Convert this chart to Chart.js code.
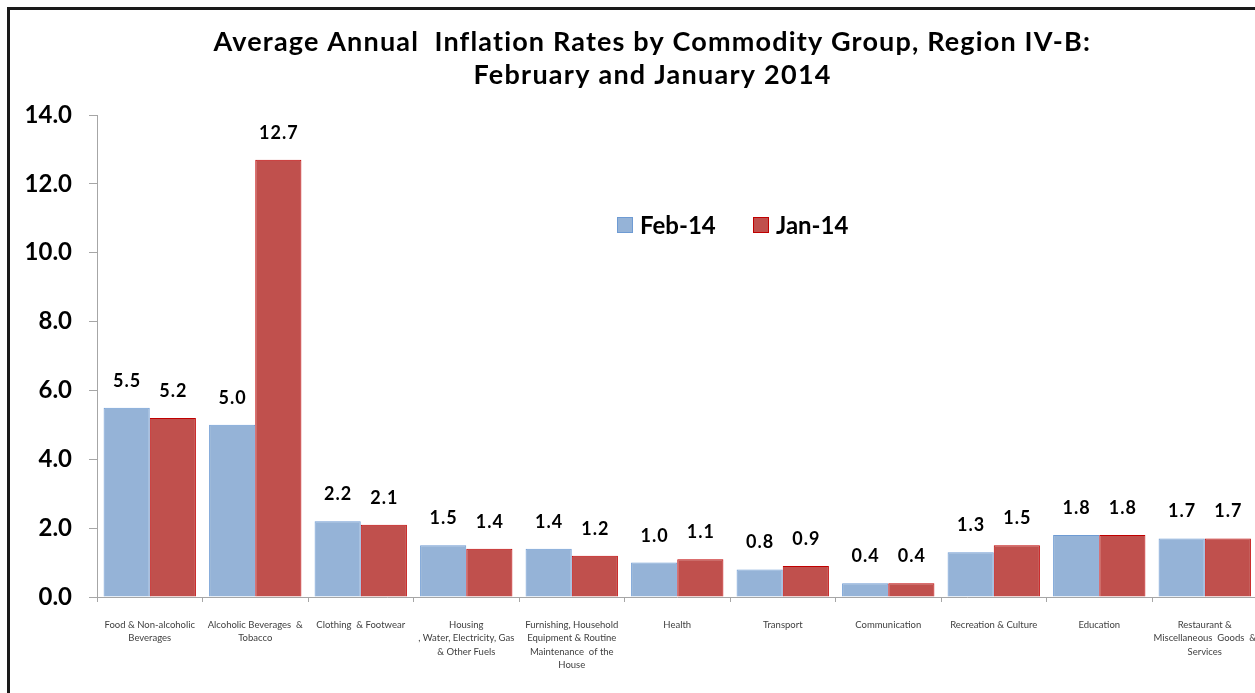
<!DOCTYPE html>
<html>
<head>
<meta charset="utf-8">
<script src="https://cdn.jsdelivr.net/npm/chart.js@4.4.1/dist/chart.umd.min.js"></script>
<style>
  html, body { margin: 0; padding: 0; background: #fff; overflow: hidden; width: 1255px; height: 693px; }
  #wrap { position: absolute; left: 0; top: 0; width: 1262px; height: 693px; }
  #frame { position: absolute; left: 7px; top: 7px; width: 1400px; height: 800px; border: 3px solid #1a1a1a; box-sizing: border-box; pointer-events: none; }
</style>
</head>
<body>
<div id="wrap"><canvas id="c" width="1262" height="693"></canvas></div>
<div id="frame"></div>
<script>
const categories = [
  ["Food & Non-alcoholic", "Beverages"],
  ["Alcoholic Beverages  &", "Tobacco"],
  ["Clothing  & Footwear"],
  ["Housing", ", Water, Electricity, Gas", "& Other Fuels"],
  ["Furnishing, Household", "Equipment & Routine", "Maintenance  of the", "House"],
  ["Health"],
  ["Transport"],
  ["Communication"],
  ["Recreation & Culture"],
  ["Education"],
  ["Restaurant &", "Miscellaneous  Goods  &", "Services"]
];
const seriesNames = ["Feb-14", "Jan-14"];
const feb14 = [5.5, 5.0, 2.2, 1.5, 1.4, 1.0, 0.8, 0.4, 1.3, 1.8, 1.7];
const jan14 = [5.2, 12.7, 2.1, 1.4, 1.2, 1.1, 0.9, 0.4, 1.5, 1.8, 1.7];
const yTicks = [0, 2, 4, 6, 8, 10, 12, 14];
const titleLines = ["Average Annual  Inflation Rates by Commodity Group, Region IV-B:", "February and January 2014"];

const fillColors = ["#95B3D7", "#C0504D"];
const borderColors = ["#6E9BD3", "#C00000"];

function fitText(ctx, text, x, y, target) {
  ctx.letterSpacing = '0px';
  const w = ctx.measureText(text).width;
  const ls = Math.max(0, (target - w) / (text.length - 1));
  ctx.letterSpacing = ls.toFixed(2) + 'px';
  ctx.textAlign = 'left';
  const total = w + ls * (text.length - 1);
  ctx.fillText(text, x - total / 2, y);
  ctx.letterSpacing = '0px';
}

const overlay = {
  id: 'overlay',
  afterDatasetsDraw(chart) {
    const ctx = chart.ctx;
    ctx.save();
    // data labels
    ctx.fillStyle = '#000';
    ctx.font = 'bold 18px Lato';
    ctx.letterSpacing = '1px';
    ctx.textAlign = 'center';
    ctx.textBaseline = 'alphabetic';
    chart.data.datasets.forEach((ds, di) => {
      const meta = chart.getDatasetMeta(di);
      meta.data.forEach((el, i) => {
        ctx.fillText(ds.data[i].toFixed(1), el.x + 0.5, el.y - 21);
      });
    });
    ctx.letterSpacing = '0px';
    // title
    ctx.font = 'bold 27px Lato';
    ctx.textBaseline = 'middle';
    fitText(ctx, titleLines[0], 652, 42, 877);
    fitText(ctx, titleLines[1], 652, 75, 357);
    // legend
    ctx.font = 'bold 24px Lato';
    ctx.textAlign = 'left';
    const items = [{x: 617}, {x: 753}];
    items.forEach((it, k) => {
      ctx.fillStyle = fillColors[k];
      ctx.fillRect(it.x, 217, 15, 15);
      ctx.strokeStyle = borderColors[k];
      ctx.lineWidth = 1;
      ctx.strokeRect(it.x + 0.5, 217.5, 15, 15);
      ctx.fillStyle = '#000';
      ctx.fillText(seriesNames[k], it.x + 23, 226);
    });
    ctx.restore();
  }
};

new Chart(document.getElementById('c'), {
  type: 'bar',
  data: {
    labels: categories,
    datasets: [
      { label: seriesNames[0], data: feb14, backgroundColor: fillColors[0], borderColor: borderColors[0], borderWidth: 1, categoryPercentage: 0.875, barPercentage: 1.0 },
      { label: seriesNames[1], data: jan14, backgroundColor: fillColors[1], borderColor: borderColors[1], borderWidth: 1, categoryPercentage: 0.875, barPercentage: 1.0 }
    ]
  },
  options: {
    responsive: false,
    animation: false,
    layout: { padding: { top: 115, right: 4.5, left: 0, bottom: 0 } },
    plugins: { legend: { display: false }, title: { display: false }, tooltip: { enabled: false } },
    scales: {
      x: {
        grid: { display: true, drawOnChartArea: false, offset: true, tickLength: 5, color: '#A6A6A6' },
        border: { color: '#A6A6A6', width: 1 },
        ticks: { color: '#404040', font: { family: 'Lato', size: 9.5, lineHeight: 1.42 }, padding: 16, maxRotation: 0, autoSkip: false },
        afterFit(s) { s.height = 96; s.paddingLeft = 0; s.paddingRight = 0; }
      },
      y: {
        min: 0, max: 14,
        afterBuildTicks(s) { s.ticks = yTicks.map(v => ({ value: v })); },
        grid: { display: true, drawOnChartArea: false, tickLength: 8, color: '#A6A6A6' },
        border: { color: '#A6A6A6', width: 1 },
        ticks: { color: '#000', font: { family: 'Lato', size: 24, weight: 'bold' }, padding: 17, callback: v => v.toFixed(1) },
        afterFit(s) { s.width = 97; }
      }
    }
  },
  plugins: [overlay]
});
</script>
</body>
</html>
